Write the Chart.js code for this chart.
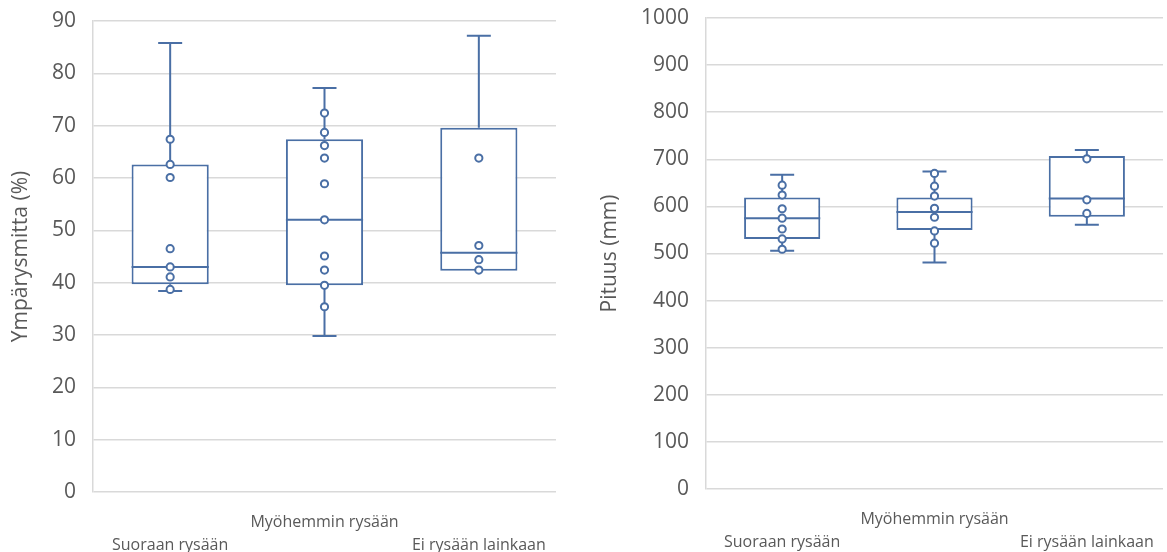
<!DOCTYPE html>
<html>
<head>
<meta charset="utf-8">
<script src="https://cdn.jsdelivr.net/npm/chart.js@4"></script>
<style>
  html, body { margin: 0; padding: 0; background: #ffffff; }
  body { width: 1167px; height: 552px; position: relative; overflow: hidden; }
  canvas { position: absolute; top: 0; }
  #c1 { left: 0px; }
  #c2 { left: 585px; }
</style>
</head>
<body>
<canvas id="c1" width="562" height="552"></canvas>
<canvas id="c2" width="584" height="552"></canvas>
<script>
// ---- Data ----
const categories = [['', 'Suoraan rysään'], 'Myöhemmin rysään', ['', 'Ei rysään lainkaan']];

// Left chart: Ympärysmitta (%)
const girthTicks = [0, 10, 20, 30, 40, 50, 60, 70, 80, 90];
const girthQ1 = [39.7, 39.5, 42.3];
const girthQ3 = [62.6, 67.4, 69.6];
const girthMedian = [43.0, 52.0, 45.7];
const girthMin = [38.4, 29.8, 42.3];
const girthMax = [85.8, 77.2, 87.2];
const girthPointsA = [67.4, 62.6, 60.1, 46.5, 43.0, 41.1, 38.7];
const girthPointsB = [72.4, 68.7, 66.2, 63.8, 58.9, 52.0, 45.1, 42.4, 39.5, 35.4];
const girthPointsC = [63.8, 47.1, 44.4, 42.4];

// Right chart: Pituus (mm)
const lengthTicks = [0, 100, 200, 300, 400, 500, 600, 700, 800, 900, 1000];
const lengthQ1 = [531, 550, 578];
const lengthQ3 = [619, 619, 707];
const lengthMedian = [575, 588, 617];
const lengthMin = [506, 481, 561];
const lengthMax = [667, 674, 720];
const lengthPointsA = [645, 624, 595, 575, 552, 531, 509];
const lengthPointsB = [670, 643, 622, 596, 577, 548, 522];
const lengthPointsC = [701, 614, 585];

// ---- Styling ----
const BLUE = '#4a6fa5';
const GRID = '#d9d9d9';
const TEXT = '#595959';
const FONT = "'Open Sans', 'Liberation Sans', sans-serif";

const whiskerPlugin = {
  id: 'boxWhisker',
  afterDatasetDraw(chart, args, opts) {
    if (args.index !== 0) return;
    const xs = chart.scales.x, ys = chart.scales.y;
    const meta = chart.getDatasetMeta(0);
    const ctx = chart.ctx;
    ctx.save();
    ctx.strokeStyle = BLUE;
    ctx.lineWidth = 2;
    ctx.lineCap = 'butt';
    for (let i = 0; i < opts.q1.length; i++) {
      const px = xs.getPixelForValue(i);
      const bw = meta.data[i].width;
      const yMax = ys.getPixelForValue(opts.max[i]);
      const yQ3 = ys.getPixelForValue(opts.q3[i]);
      const yQ1 = ys.getPixelForValue(opts.q1[i]);
      const yMin = ys.getPixelForValue(opts.min[i]);
      const yMed = ys.getPixelForValue(opts.median[i]);
      const cap = 12;
      ctx.beginPath();
      if (opts.max[i] > opts.q3[i]) {
        ctx.moveTo(px, yMax); ctx.lineTo(px, yQ3);
        ctx.moveTo(px - cap, yMax); ctx.lineTo(px + cap, yMax);
      }
      if (opts.min[i] < opts.q1[i]) {
        ctx.moveTo(px, yQ1); ctx.lineTo(px, yMin);
        ctx.moveTo(px - cap, yMin); ctx.lineTo(px + cap, yMin);
      }
      ctx.moveTo(px - bw / 2, yMed); ctx.lineTo(px + bw / 2, yMed);
      ctx.stroke();
    }
    ctx.restore();
  }
};

function pointsData(groups) {
  const out = [];
  groups.forEach((g, i) => g.forEach(v => out.push({ x: categories[i], y: v })));
  return out;
}

function makeChart(id, cfg) {
  new Chart(document.getElementById(id), {
    type: 'bar',
    data: {
      labels: categories,
      datasets: [
        {
          type: 'bar',
          order: 1,
          data: cfg.q1.map((v, i) => [v, cfg.q3[i]]),
          backgroundColor: '#ffffff',
          borderColor: BLUE,
          borderWidth: 2,
          borderSkipped: false,
          categoryPercentage: 1.0,
          barPercentage: 0.5
        },
        {
          type: 'line',
          order: 0,
          data: pointsData(cfg.points),
          showLine: false,
          pointStyle: 'circle',
          pointRadius: 3.6,
          pointBorderWidth: 2,
          pointBackgroundColor: '#ffffff',
          pointBorderColor: BLUE
        }
      ]
    },
    plugins: [whiskerPlugin],
    options: {
      responsive: false,
      animation: false,
      devicePixelRatio: 1,
      layout: { padding: cfg.padding },
      plugins: {
        legend: { display: false },
        tooltip: { enabled: false },
        boxWhisker: { q1: cfg.q1, q3: cfg.q3, median: cfg.median, min: cfg.min, max: cfg.max }
      },
      scales: {
        x: {
          type: 'category',
          grid: { display: false, drawTicks: false },
          border: { display: false },
          ticks: {
            color: TEXT,
            font: { family: FONT, size: 16, lineHeight: 1.45 },
            padding: 19,
            maxRotation: 0,
            autoSkip: false
          },
          afterFit: (s) => { s.height = cfg.xHeight; s.paddingLeft = 0; s.paddingRight = 0; }
        },
        y: {
          type: 'linear',
          min: cfg.ticks[0],
          max: cfg.ticks[cfg.ticks.length - 1],
          afterBuildTicks: (s) => { s.ticks = cfg.ticks.map(v => ({ value: v })); },
          grid: { color: GRID, lineWidth: 1.5, drawTicks: false },
          border: { display: true, color: GRID, width: 1.5 },
          ticks: {
            color: TEXT,
            font: { family: FONT, size: 21 },
            padding: cfg.tickPad,
            callback: (v) => String(v)
          },
          title: {
            display: true,
            text: cfg.title,
            color: TEXT,
            font: { family: FONT, size: 21 },
            padding: { top: cfg.titlePad, bottom: 0 }
          },
          afterFit: (s) => { s.width = cfg.yWidth; s.paddingTop = 0; s.paddingBottom = 0; }
        }
      }
    }
  });
}

makeChart('c1', {
  q1: girthQ1, q3: girthQ3, median: girthMedian, min: girthMin, max: girthMax,
  points: [girthPointsA, girthPointsB, girthPointsC],
  ticks: girthTicks,
  title: 'Ympärysmitta (%)',
  padding: { top: 21, right: 3, left: 0, bottom: 0 },
  xHeight: 60, yWidth: 93, tickPad: 17, titlePad: 8
});

makeChart('c2', {
  q1: lengthQ1, q3: lengthQ3, median: lengthMedian, min: lengthMin, max: lengthMax,
  points: [lengthPointsA, lengthPointsB, lengthPointsC],
  ticks: lengthTicks,
  title: 'Pituus (mm)',
  padding: { top: 18, right: 0, left: 0, bottom: 0 },
  xHeight: 63, yWidth: 121, tickPad: 17, titlePad: 12
});
</script>
</body>
</html>
